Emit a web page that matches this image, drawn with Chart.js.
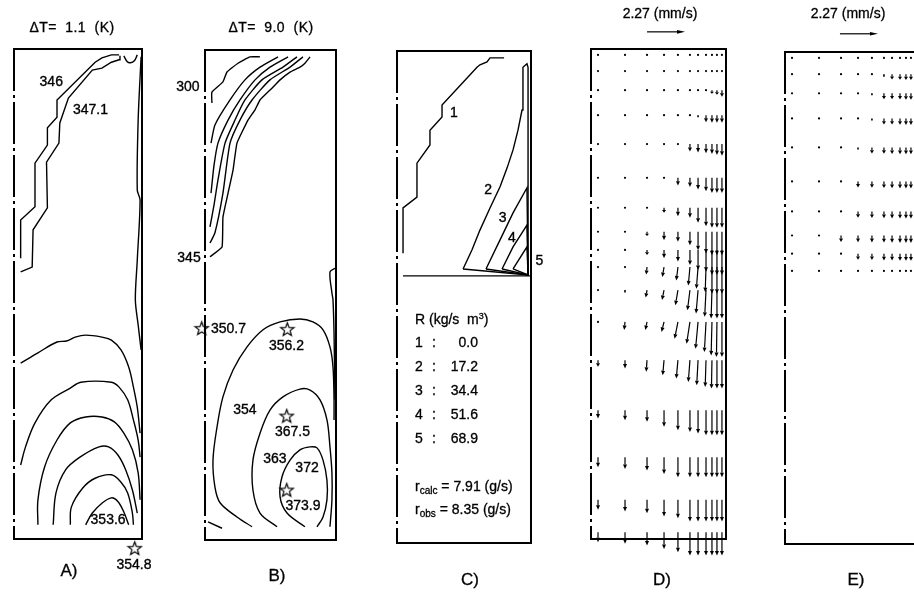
<!DOCTYPE html>
<html><head><meta charset="utf-8">
<script src="https://cdn.jsdelivr.net/npm/chart.js@4/dist/chart.umd.min.js"></script>
<style>
html,body{margin:0;padding:0;width:914px;height:594px;overflow:hidden;background:#fff;}
canvas{position:absolute;left:0;top:0;}
.t{position:absolute;font-family:"Liberation Sans",Arial,Helvetica,sans-serif;color:#000;white-space:pre;line-height:1;-webkit-text-stroke:0.3px #000;}
.c{transform:translate(-50%,-50%);}
.l{transform:translate(0,-50%);}
.r{transform:translate(-100%,-50%);}
sub{font-size:10px;vertical-align:-3px;}
sup{font-size:9px;vertical-align:5px;}
</style></head><body>
<canvas id="cA" width="940" height="594"></canvas>
<canvas id="cB" width="940" height="594"></canvas>
<canvas id="cC" width="940" height="594"></canvas>
<canvas id="cD" width="940" height="594"></canvas>
<canvas id="cE" width="940" height="594"></canvas>

<div class="t c" style="left:72px;top:27px;font-size:14px;letter-spacing:0.4px">ΔT=  1.1  (K)</div>
<div class="t c" style="left:271px;top:27px;font-size:14px;letter-spacing:0.4px">ΔT=  9.0  (K)</div>
<div class="t c" style="left:660px;top:13px;font-size:14px">2.27 (mm/s)</div>
<div class="t c" style="left:848px;top:13px;font-size:14px">2.27 (mm/s)</div>
<div class="t c" style="left:69px;top:570px;font-size:17px">A)</div>
<div class="t c" style="left:277px;top:575px;font-size:17px">B)</div>
<div class="t c" style="left:470px;top:579px;font-size:17px">C)</div>
<div class="t c" style="left:662px;top:579px;font-size:17px">D)</div>
<div class="t c" style="left:856px;top:579px;font-size:17px">E)</div>
<div id="legendC"></div>

<script>
// ---------- DATA (coordinates: r/R in %, z/H in %) ----------
// Panel A: temperature contours, ΔT = 1.1 K
const A_c346  = [[5.2,57.3],[5.2,65.1],[16.4,67.8],[16.4,76.7],[26.1,80.4],[26.1,83.9],[33.6,86.1],[33.6,89.6],[63.4,97.3],[68.7,98.2],[76.1,98.8],[82.1,98.8]];
const A_c3471 = [[5.2,54.5],[14.2,55.5],[14.9,63.1],[26.1,67.6],[25.4,76.9],[35.1,80.8],[35.8,84.9],[42.5,90.0],[61.2,95.7],[68.7,96.1],[76.1,97.3],[82.1,97.8],[82.8,98.6]];
const A_cap   = [[85.8,98.6],[88.5,97.4],[91.0,97.2],[94.0,97.6],[96.3,98.8]];
const A_wall  = [[99.3,98.4],[97.0,85.5],[96.3,71.2],[98.5,69.2],[96.3,56.9],[94.8,48.8],[97.0,43.7],[99.3,38.6]];
const A_b1 = [[5.2,35.9],[18.7,38.0],[33.6,40.2],[41.0,40.4],[47.8,41.2],[56.0,41.6],[68.7,41.2],[76.1,40.6],[83.6,38.6],[89.6,35.1],[93.3,31.0],[96.3,26.9],[98.5,21.6]];
const A_b2 = [[5.2,15.1],[9.0,18.8],[16.4,23.7],[29.1,28.4],[44.0,30.8],[52.2,32.0],[76.1,32.0],[82.1,31.0],[88.8,28.4],[93.3,24.3],[97.0,20.2],[98.5,16.7]];
const A_b3 = [[18.7,2.9],[18.7,8.0],[23.9,14.7],[33.6,20.2],[44.0,23.7],[56.0,24.9],[68.7,24.9],[78.4,23.9],[85.8,21.6],[92.5,18.2],[97.0,13.5],[98.5,8.0]];
const A_b4 = [[30.6,2.9],[32.8,9.4],[40.3,14.1],[51.5,16.7],[66.4,18.8],[73.9,18.8],[81.3,17.1],[87.3,14.1],[92.5,10.0],[96.3,5.3]];
const A_b5 = [[44.0,2.9],[44.8,6.5],[53.7,10.4],[63.4,12.4],[76.1,13.1],[83.6,11.6],[88.8,9.4],[92.5,5.3],[93.3,2.9]];
const A_b6 = [[56.0,2.9],[61.2,5.3],[68.7,7.3],[76.1,8.4],[81.3,7.6],[85.8,5.5],[89.6,2.9]];
const A_stars  = [[94.3,-1.9]];
const A_labels = [['346',29.1,93.2],['347.1',59.7,87.6],['353.6',73.5,3.8],['354.8',93.7,-5.3]];

// Panel B: temperature contours, ΔT = 9.0 K
const B_c300 = [[5.3,89.2],[5.3,91.4],[13.7,93.5],[16.8,95.5],[25.2,97.3],[34.4,98.6],[42.0,98.6]];
const B_c2   = [[4.6,81.0],[7.6,84.7],[19.1,89.8],[30.5,93.9],[42.0,96.5],[55.7,98.6]];
const B_c3   = [[4.6,70.8],[6.9,76.5],[9.9,81.0],[17.6,85.7],[26.7,89.8],[38.2,93.9],[49.6,96.5],[63.4,98.6]];
const B_c4   = [[3.8,63.9],[6.9,68.4],[9.9,73.5],[15.3,81.0],[22.9,85.7],[30.5,89.8],[43.5,93.9],[59.5,96.5],[70.2,98.6]];
const B_c5   = [[3.8,60.6],[7.6,62.7],[13.7,70.8],[19.1,81.0],[26.7,85.7],[35.9,89.8],[49.6,93.9],[64.9,96.5],[74.8,98.6]];
const B_c345 = [[3.8,57.8],[13.0,59.8],[13.7,65.9],[17.6,70.8],[21.4,75.5],[24.4,81.0],[32.8,85.7],[38.2,87.8],[42.0,89.8],[51.1,92.2],[57.3,93.9],[64.9,95.5],[72.5,96.5],[76.3,97.3],[80.2,98.6]];
const B_wall = [[99.6,55.5],[95.4,54.7],[96.9,50.4],[97.7,49.0],[98.5,42.2],[99.2,28.6]];
const B_c354 = [[35.9,2.7],[24.4,4.7],[11.5,7.6],[7.6,10.8],[6.1,16.3],[9.2,23.1],[13.7,29.2],[21.4,34.7],[32.1,39.4],[44.3,42.9],[57.3,44.5],[72.5,45.1],[82.4,44.5],[90.1,42.9],[95.4,39.4],[97.7,35.3],[98.5,28.6],[98.5,24.5]];
const B_seg  = [[2.3,3.7],[13.0,2.4]];
const B_c363 = [[55.0,2.7],[42.0,5.5],[36.6,10.2],[36.6,16.3],[42.0,21.8],[49.6,26.5],[59.5,29.2],[72.5,30.8],[80.2,30.6],[87.8,28.6],[93.1,24.5],[95.4,19.0],[96.9,13.7],[96.9,8.2],[95.4,2.7]];
const B_c372 = [[76.3,2.7],[62.6,5.5],[57.3,8.8],[58.8,12.9],[64.9,16.3],[72.5,18.4],[80.2,19.0],[85.5,18.8],[90.1,16.3],[93.1,12.2],[93.1,8.2],[90.1,4.7],[85.5,2.7]];
const B_stars  = [[-2.5,43.2],[62.8,43.0],[62.4,25.3],[62.4,10.2]];
const B_labels = [['300',-13.0,92.5],['345',-12.2,57.5],['350.7',17.9,43.1],['356.2',62.2,39.5],['354',30.5,26.5],['367.5',66.8,22.1],['363',53.4,16.5],['372',77.9,14.6],['373.9',74.8,6.9]];

// Panel C: reaction-rate contours
const C_bed = [[4.5,54.3],[100,54.3]];
const C_c1 = [[4.5,58.9],[4.5,68.1],[14.9,70.3],[14.9,77.2],[24.6,80.9],[24.6,83.9],[33.6,86.6],[33.6,89.0],[59.7,96.7],[61.9,97.2],[67.2,97.8],[69.4,98.6],[79.9,98.6]];
const C_c2 = [[49.3,55.7],[56.0,59.6],[61.9,63.6],[69.4,68.1],[76.9,72.4],[82.1,76.2],[86.6,79.9],[90.3,83.9],[93.3,88.0],[94.0,92.1],[94.0,96.7],[97.0,97.4],[97.8,96.7],[97.8,54.5],[49.3,55.7]];
const C_c3 = [[66.4,55.7],[76.9,61.6],[86.6,67.1],[97.0,72.2],[97.8,54.5],[66.4,55.7]];
const C_c4 = [[78.4,55.7],[86.6,60.2],[97.0,64.6],[97.8,54.5],[78.4,55.7]];
const C_c5 = [[86.6,55.7],[97.0,60.2],[97.8,54.5],[86.6,55.7]];
const C_labels = [['1',42.5,87.4],['2',68.1,71.7],['3',78.9,66.0],['4',85.8,61.9],['5',106.2,57.3]];
const C_legendIds  = ['1','2','3','4','5'];
const C_legendVals = ['0.0','17.2','34.4','51.6','68.9'];
const C_rCalc = '7.91';
const C_rObs  = '8.35';

// Panels D, E: velocity vectors (mm/s) on a shared grid
const gridRows = [98.8,95.5,91.6,86.5,80.6,73.7,67.6,62.7,59.0,55.5,50.8,44.3,36.5,26.3,16.7,8.0,1.4];
const gridCols = [5.2,25.2,41.5,54.1,64.4,73.3,79.3,85.2,89.6,93.3,97.0];
const D_W = [
 [-0.03,-0.03,-0.03,-0.03,-0.03,-0.03,-0.03,-0.04,-0.05,-0.05,-0.06],
 [-0.03,-0.03,-0.03,-0.03,-0.03,-0.03,-0.04,-0.05,-0.06,-0.08,-0.10],
 [-0.03,-0.03,-0.03,-0.03,-0.03,-0.03,-0.04,-0.08,-0.22,-0.28,-0.40],
 [-0.03,-0.03,-0.03,-0.03,-0.04,-0.06,-0.12,-0.42,-0.45,-0.45,-0.45],
 [-0.03,-0.03,-0.03,-0.04,-0.10,-0.45,-0.50,-0.55,-0.60,-0.65,-0.70],
 [-0.03,-0.03,-0.04,-0.10,-0.45,-0.55,-0.70,-0.80,-0.90,-0.90,-0.90],
 [-0.03,-0.03,-0.05,-0.30,-0.50,-0.60,-0.90,-1.10,-1.20,-1.20,-1.20],
 [-0.03,-0.05,-0.25,-0.50,-0.60,-0.80,-1.10,-1.30,-1.40,-1.40,-1.40],
 [-0.03,-0.05,-0.30,-0.50,-0.70,-0.90,-1.20,-1.30,-1.50,-1.50,-1.50],
 [-0.03,-0.05,-0.45,-0.60,-0.80,-1.10,-1.30,-1.50,-1.60,-1.60,-1.60],
 [-0.05,-0.15,-0.45,-0.60,-0.90,-1.20,-1.40,-1.60,-1.70,-1.70,-1.70],
 [-0.05,-0.48,-0.48,-0.60,-1.00,-1.30,-1.60,-1.80,-2.00,-2.10,-2.10],
 [-0.40,-0.50,-0.70,-0.90,-1.10,-1.30,-1.50,-1.60,-1.70,-1.70,-1.70],
 [-0.50,-0.60,-0.70,-1.00,-1.20,-1.30,-1.40,-1.50,-1.50,-1.50,-1.50],
 [-0.60,-0.70,-0.80,-1.00,-1.20,-1.20,-1.20,-1.20,-1.20,-1.20,-1.20],
 [-0.60,-0.70,-0.80,-1.00,-1.10,-1.30,-1.30,-1.30,-1.30,-1.30,-1.30],
 [-0.60,-0.70,-0.80,-1.00,-1.20,-1.40,-1.40,-1.40,-1.40,-1.40,-1.40]
];
const D_U = [
 [0,0,0,0,0,0,0,0,0,0,0],[0,0,0,0,0,0,0,0,0,0,0],[0,0,0,0,0,0,0,0,0,0,0],
 [0,0,0,0,0,0,0,0,0,0,0],[0,0,0,0,0,0,0,0,0,0,0],[0,0,0,0,0,0,0,0,0,0,0],
 [0,0,0,0,0,0,0,0,0,0,0],[0,0,0,0,0,0,0,0,0,0,0],[0,0,0,0,0,0,0,0,0,0,0],
 [0,0,-0.05,-0.10,-0.10,-0.10,-0.10,-0.05,0,0,0],
 [0,0,-0.08,-0.12,-0.15,-0.15,-0.12,-0.08,-0.05,0,0],
 [0,-0.05,-0.10,-0.15,-0.20,-0.20,-0.15,-0.10,-0.05,-0.03,0],
 [0,0,-0.05,-0.08,-0.10,-0.10,-0.08,-0.05,-0.03,0,0],
 [0,0,0,0,0,0,0,0,0,0,0],[0,0,0,0,0,0,0,0,0,0,0],[0,0,0,0,0,0,0,0,0,0,0],
 [0,0,0,0,0,0,0,0,0,0,0]
];
const E_W = [
 [-0.03,-0.03,-0.03,-0.03,-0.03,-0.04,-0.04,-0.05,-0.05,-0.06,-0.06],
 [-0.03,-0.03,-0.03,-0.03,-0.05,-0.15,-0.32,-0.34,-0.35,-0.35,-0.35],
 [-0.03,-0.03,-0.03,-0.05,-0.12,-0.35,-0.36,-0.37,-0.38,-0.38,-0.38],
 [-0.03,-0.03,-0.03,-0.05,-0.12,-0.36,-0.37,-0.38,-0.39,-0.39,-0.39],
 [-0.03,-0.03,-0.04,-0.12,-0.36,-0.38,-0.39,-0.40,-0.40,-0.40,-0.40],
 [-0.03,-0.03,-0.05,-0.36,-0.38,-0.40,-0.41,-0.42,-0.42,-0.42,-0.42],
 [-0.03,-0.03,-0.10,-0.38,-0.40,-0.41,-0.42,-0.43,-0.43,-0.43,-0.43],
 [-0.03,-0.04,-0.38,-0.40,-0.41,-0.42,-0.43,-0.44,-0.44,-0.44,-0.44],
 [-0.03,-0.03,-0.05,-0.36,-0.38,-0.40,-0.41,-0.42,-0.42,-0.42,-0.42],
 [-0.03,-0.03,-0.03,-0.03,-0.03,-0.03,-0.03,-0.04,-0.05,-0.10,-0.30]
];
const refSpeed = 2.27;          // mm/s, reference arrow
const D_refPos = [41.5,103.5];
const E_refPos = [40.7,103.7];

// ---------- LAYOUT / STYLE ----------
const CW = 940, CH = 594;
const boxes = {
  A:{x0:8,  x1:142, y0:49, y1:539},
  B:{x0:205,x1:336, y0:50, y1:540},
  C:{x0:397,x1:531, y0:51, y1:543},
  D:{x0:591,x1:726, y0:49, y1:539},
  E:{x0:785,x1:920, y0:52, y1:544}
};
const INK = '#000';
const FONT = '14px "Liberation Sans", Arial, Helvetica, sans-serif';
const PX_PER_MMS = 38 / refSpeed;

function pts(arr){ return arr.map(p => ({x:p[0], y:p[1]})); }
function line(arr, tension){
  return {data:pts(arr), showLine:true, pointRadius:0, borderColor:INK, borderWidth:1.4,
          tension:tension||0, fill:false, clip:6};
}
function starImage(){
  const c = document.createElement('canvas'); c.width = 17; c.height = 17;
  const g = c.getContext('2d'); g.strokeStyle = INK; g.lineWidth = 1.2;
  g.beginPath();
  for (let k = 0; k < 10; k++){
    const r = (k % 2) ? 2.9 : 7;
    const a = -Math.PI/2 + k*Math.PI/5;
    g.lineTo(8.5 + r*Math.cos(a), 9 + r*Math.sin(a));
  }
  g.closePath(); g.stroke(); return c;
}
const STAR = starImage();
function stars(arr){
  return {data:pts(arr), showLine:false, pointStyle:STAR, pointRadius:14, pointHoverRadius:14,
          borderWidth:0, clip:false};
}
function framePlugin(){
  return {id:'frame', afterDatasetsDraw(chart){
    const a = chart.chartArea, ctx = chart.ctx;
    ctx.save(); ctx.strokeStyle = INK; ctx.lineWidth = 2;
    ctx.beginPath(); ctx.moveTo(a.left-1, a.top); ctx.lineTo(a.right, a.top);
    ctx.lineTo(a.right, a.bottom); ctx.lineTo(a.left-1, a.bottom); ctx.stroke();
    ctx.setLineDash([42,4,3,4]);
    ctx.beginPath(); ctx.moveTo(a.left, a.top); ctx.lineTo(a.left, a.bottom); ctx.stroke();
    ctx.restore();
  }};
}
function labelPlugin(labels){
  return {id:'labels', afterDatasetsDraw(chart){
    const ctx = chart.ctx, xs = chart.scales.x, ys = chart.scales.y;
    ctx.save(); ctx.fillStyle = INK; ctx.strokeStyle = INK; ctx.lineWidth = 0.35;
    ctx.font = FONT; ctx.textAlign = 'center'; ctx.textBaseline = 'middle';
    labels.forEach(l => {
      const x = xs.getPixelForValue(l[1]), y = ys.getPixelForValue(l[2]);
      ctx.fillText(l[0], x, y); ctx.strokeText(l[0], x, y);
    });
    ctx.restore();
  }};
}
function drawVector(ctx, x, y, dx, dy, headLen, headHalf){
  const L = Math.hypot(dx, dy);
  if (L < 1.8){ ctx.beginPath(); ctx.arc(x, y, 1.1, 0, Math.PI*2); ctx.fill(); return; }
  const ux = dx/L, uy = dy/L;
  if (L < 3.2){ ctx.lineWidth = 1.6; ctx.beginPath(); ctx.moveTo(x, y); ctx.lineTo(x+dx, y+dy); ctx.stroke(); return; }
  const h = Math.min(headLen, L*0.55), hw = headHalf;
  const tx = x+dx, ty = y+dy, bx = tx-ux*h, by = ty-uy*h;
  ctx.lineWidth = 1.2;
  ctx.beginPath(); ctx.moveTo(x, y); ctx.lineTo(bx, by); ctx.stroke();
  ctx.beginPath(); ctx.moveTo(tx, ty); ctx.lineTo(bx-uy*hw, by+ux*hw); ctx.lineTo(bx+uy*hw, by-ux*hw);
  ctx.closePath(); ctx.fill();
}
function quiverPlugin(rows, cols, W, U, refPos){
  return {id:'quiver', afterDatasetsDraw(chart){
    const ctx = chart.ctx, xs = chart.scales.x, ys = chart.scales.y;
    ctx.save(); ctx.fillStyle = INK; ctx.strokeStyle = INK;
    W.forEach((row, i) => row.forEach((w, j) => {
      const u = U ? U[i][j] : 0;
      drawVector(ctx, xs.getPixelForValue(cols[j]), ys.getPixelForValue(rows[i]),
                 u*PX_PER_MMS, -w*PX_PER_MMS, 4.5, 2.0);
    }));
    drawVector(ctx, xs.getPixelForValue(refPos[0]), ys.getPixelForValue(refPos[1]),
               refSpeed*PX_PER_MMS, 0, 8, 1.8);
    ctx.restore();
  }};
}
function makeChart(id, box, datasets, plugins){
  return new Chart(document.getElementById(id), {
    type:'scatter',
    data:{datasets},
    options:{
      responsive:false, maintainAspectRatio:false, animation:false, events:[], devicePixelRatio:1,
      layout:{padding:{left:box.x0, right:CW-box.x1, top:box.y0, bottom:CH-box.y1}},
      scales:{x:{type:'linear', min:0, max:100, display:false},
              y:{type:'linear', min:0, max:100, display:false}},
      plugins:{legend:{display:false}, tooltip:{enabled:false}, title:{display:false}}
    },
    plugins:[framePlugin()].concat(plugins)
  });
}

makeChart('cA', boxes.A, [
  line(A_c346), line(A_c3471), line(A_cap, 0.4), line(A_wall, 0.3),
  line(A_b1, 0.35), line(A_b2, 0.35), line(A_b3, 0.35), line(A_b4, 0.35), line(A_b5, 0.35), line(A_b6, 0.35),
  stars(A_stars)
], [labelPlugin(A_labels)]);

makeChart('cB', boxes.B, [
  line(B_c300, 0.15), line(B_c2, 0.2), line(B_c3, 0.2), line(B_c4, 0.2), line(B_c5, 0.2), line(B_c345, 0.1),
  line(B_wall, 0.3), line(B_c354, 0.35), line(B_seg), line(B_c363, 0.35), line(B_c372, 0.35),
  stars(B_stars)
], [labelPlugin(B_labels)]);

makeChart('cC', boxes.C, [
  line(C_bed), line(C_c1), line(C_c2), line(C_c3), line(C_c4), line(C_c5)
], [labelPlugin(C_labels)]);

makeChart('cD', boxes.D, [], [quiverPlugin(gridRows, gridCols, D_W, D_U, D_refPos)]);
makeChart('cE', boxes.E, [], [quiverPlugin(gridRows, gridCols, E_W, null, E_refPos)]);

// Legend text of panel C
(function(){
  const host = document.getElementById('legendC');
  const add = (html, cls, x, y) => {
    const d = document.createElement('div'); d.className = 't ' + cls;
    d.style.left = x + 'px'; d.style.top = y + 'px'; d.style.fontSize = '14px';
    d.innerHTML = html; host.appendChild(d);
  };
  add('R (kg/s  m<sup>3</sup>)', 'l', 415, 319);
  C_legendIds.forEach((id, i) => {
    const y = 342 + i*24;
    add(id, 'l', 415, y); add(':', 'c', 434, y); add(C_legendVals[i], 'r', 478, y);
  });
  add('r<sub>calc</sub> = ' + C_rCalc + ' (g/s)', 'l', 415, 487);
  add('r<sub>obs</sub> = ' + C_rObs + ' (g/s)', 'l', 415, 510);
})();
</script>
</body></html>
